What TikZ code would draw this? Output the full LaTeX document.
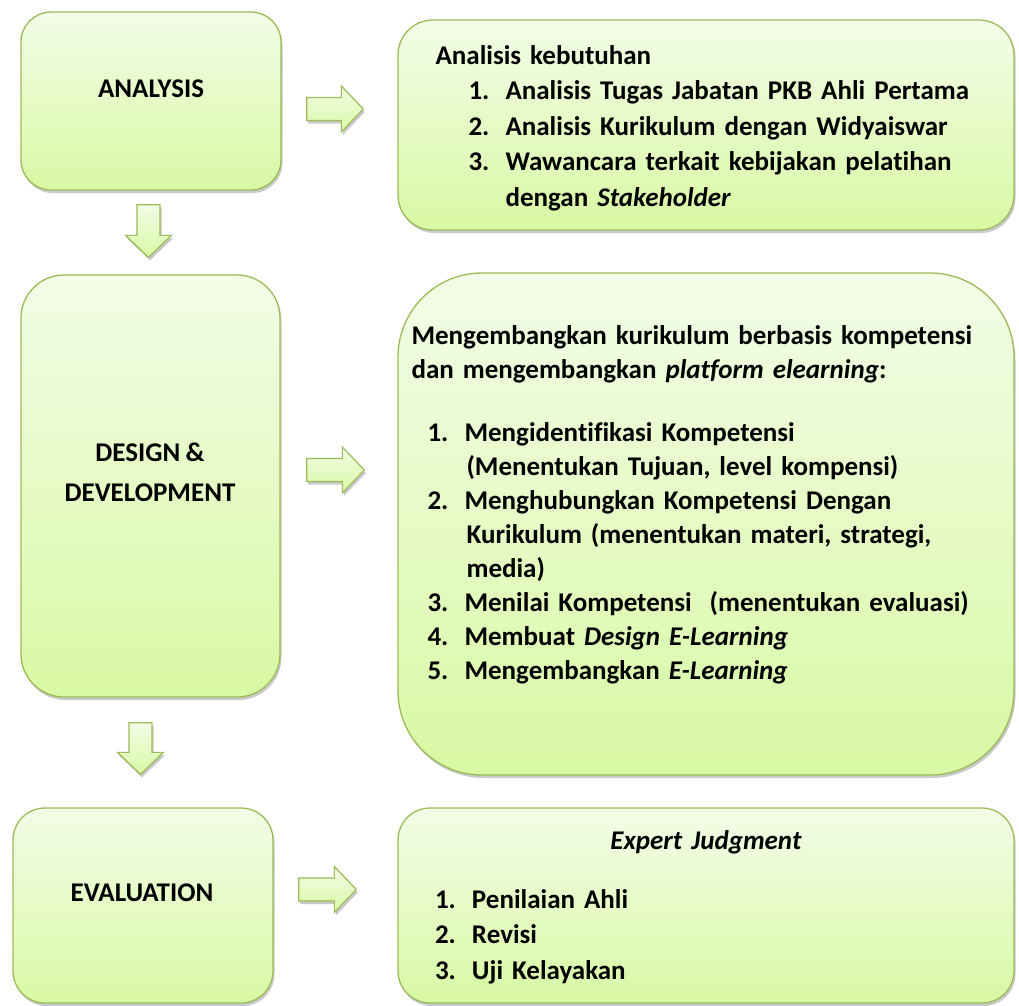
\documentclass[tikz,border=0pt]{standalone}
\usepackage{fontspec}
\setmainfont{Carlito}[Ligatures=NoCommon,WordSpace=0.85]
\usetikzlibrary{calc,shadows}
\definecolor{leafedge}{HTML}{9BBB59}
\definecolor{leaftop}{HTML}{F3FCE7}
\definecolor{leafbot}{HTML}{D8F9A4}
\newcommand{\litem}[2]{\makebox[37pt][l]{#1}#2}

\begin{document}
\begin{tikzpicture}[x=1pt,y=-1pt,
  card/.style={draw=leafedge,line width=1.3pt,top color=leaftop,bottom color=leafbot,
    drop shadow={shadow xshift=1.5pt,shadow yshift=-3pt,opacity=.3,fill=black!70}},
  stage/.style={card,rounded corners=#1,minimum width=260pt},
  panel/.style={card,rounded corners=#1,minimum width=616pt},
  stagetxt/.style={align=center,inner sep=0pt,font=\fontsize{27}{40}\selectfont\bfseries},
  paneltxt/.style={align=left,inner sep=0pt,text width=#1,font=\fontsize{27}{34}\selectfont\bfseries},
  blk/.style={card,line width=1.2pt,to path={
    let \p1=(\tikztostart),\p2=(\tikztotarget),
        \n1={atan2(\y2-\y1,\x2-\x1)},\n2={veclen(\x2-\x1,\y2-\y1)-22pt} in
    ($(\p1)+({\n1+90}:11.5pt)$) -- ($(\p1)+(\n1:\n2)+({\n1+90}:11.5pt)$)
    -- ($(\p1)+(\n1:\n2)+({\n1+90}:23pt)$) -- (\p2)
    -- ($(\p1)+(\n1:\n2)+({\n1-90}:23pt)$) -- ($(\p1)+(\n1:\n2)+({\n1-90}:11.5pt)$)
    -- ($(\p1)+({\n1-90}:11.5pt)$) -- cycle}}]
\useasboundingbox (0,0) rectangle (1019,1005);

% stages
\node[stage=30pt,minimum height=178pt] (A) at (151,101) {};
\node[stage=43pt,minimum width=259pt,minimum height=422pt] (D) at (150.5,486) {};
\node[stage=32pt,minimum height=195pt] (E) at (143,905.5) {};
\node[stagetxt] (Atxt) at (151,89) {ANALYSIS};
\node[stagetxt] (Dtxt) at (150,472) {DESIGN \&\\DEVELOPMENT};
\node[stagetxt] (Etxt) at (142,893) {EVALUATION};

% panels
\node[panel=35pt,minimum height=210pt] (R1) at (706,125) {};
\node[panel=84pt,minimum height=502pt] (R2) at (706,524) {};
\node[panel=32pt,minimum height=195pt] (R3) at (706,905.5) {};

\node[paneltxt=560pt,anchor=west,font=\fontsize{27}{35.5}\selectfont\bfseries] (R1txt)
  at ($(R1.west)+(38,3)$) {%
  Analisis kebutuhan\\
  \hspace*{33pt}\litem{1.}{Analisis Tugas Jabatan PKB Ahli Pertama}\\
  \hspace*{33pt}\litem{2.}{Analisis Kurikulum dengan Widyaiswar}\\
  \hspace*{33pt}\litem{3.}{Wawancara terkait kebijakan pelatihan}\\
  \hspace*{70pt}dengan \textit{Stakeholder}};
\node[paneltxt=590pt,anchor=west] (R2txt) at ($(R2.west)+(14,-19)$) {%
  Mengembangkan kurikulum berbasis kompetensi\\
  dan mengembangkan \textit{platform elearning}:\\[29pt]
  \hspace*{16pt}\litem{1.}{Mengidentifikasi Kompetensi}\\
  \hspace*{55pt}(Menentukan Tujuan, level kompensi)\\
  \hspace*{16pt}\litem{2.}{Menghubungkan Kompetensi Dengan}\\
  \hspace*{55pt}Kurikulum (menentukan materi, strategi,\\
  \hspace*{55pt}media)\\
  \hspace*{16pt}\litem{3.}{Menilai Kompetensi\ \ (menentukan evaluasi)}\\
  \hspace*{16pt}\litem{4.}{Membuat \textit{Design E-Learning}}\\
  \hspace*{16pt}\litem{5.}{Mengembangkan \textit{E-Learning}}};
\node[paneltxt=542pt,font=\fontsize{27}{35.5}\selectfont\bfseries] (R3txt)
  at ($(R3.center)+(0,2)$) {%
  \makebox[\hsize][c]{\textit{Expert Judgment}}\\[23pt]
  \litem{1.}{Penilaian Ahli}\\
  \litem{2.}{Revisi}\\
  \litem{3.}{Uji Kelayakan}};

% block arrows
\draw[blk] ($(A.east)+(25,8)$) to ($(A.east -| R1.west)+(-34,8)$);
\draw[blk] ($(D.east)+(26,-16)$) to ($(D.east -| R2.west)+(-33,-16)$);
\draw[blk] ($(E.east)+(25,-16)$) to ($(E.east -| R3.west)+(-41,-16)$);
\draw[blk] ($(A.south)+(-2.5,14)$) to ($(A.south |- D.north)+(-2.5,-17)$);
\draw[blk] ($(D.south)+(-10,25)$) to ($(D.south |- E.north)+(-10,-33)$);
\end{tikzpicture}
\end{document}
